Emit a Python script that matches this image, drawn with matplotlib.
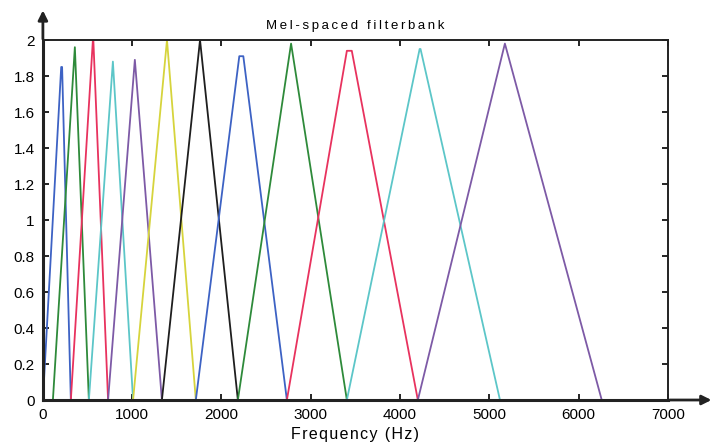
import numpy as np
import matplotlib.pyplot as plt

plt.rcParams['font.family'] = ['Liberation Sans', 'DejaVu Sans']

# triangular filters (Hz): start, top-left, top-right, end, height
starts = [0, 112, 313, 515, 730, 1010, 1333, 1713, 2184, 2733, 3405, 4200]
tops_l = [205, 358, 560, 784, 1030, 1390, 1760, 2200, 2780, 3405, 4220, 5175]
tops_r = [215, 358, 565, 784, 1030, 1390, 1760, 2245, 2780, 3460, 4230, 5175]
ends = [313, 515, 730, 1010, 1333, 1713, 2184, 2733, 3405, 4200, 5120, 6260]
heights = [1.85, 1.96, 2.0, 1.88, 1.89, 2.0, 2.0, 1.91, 1.98, 1.94, 1.95, 1.98]
colors = ['#3d62c4', '#2e8a3a', '#e8325e', '#5cc6c8', '#7d5aa6', '#d6d43c',
          '#1e1e1e', '#3d62c4', '#2e8a3a', '#e8325e', '#5cc6c8', '#7d5aa6']

xticks = [0, 1000, 2000, 3000, 4000, 5000, 6000, 7000]
yticks = [0, 0.2, 0.4, 0.6, 0.8, 1, 1.2, 1.4, 1.6, 1.8, 2]
ylabels = ['0', '0.2', '0.4', '0.6', '0.8', '1', '1.2', '1.4', '1.6', '1.8', '2']


def spaced(s, gap):
    # letter-spaced look of the scanned figure
    return gap.join(s)


fig = plt.figure(figsize=(7.15, 4.42), dpi=100)
ax = fig.add_axes([0.060, 0.095, 0.874, 0.8145])

for s, a, b, e, h, c in zip(starts, tops_l, tops_r, ends, heights, colors):
    ax.plot([s, a, b, e], [0, h, h, 0], color=c, lw=1.3)

ax.set_xlim(0, 7000)
ax.set_ylim(0, 2)
ax.set_xticks(xticks)
ax.set_yticks(yticks)
ax.set_yticklabels(ylabels)
ax.tick_params(direction='in', top=True, right=True, length=4, width=1.2,
               labelsize=11, pad=6)
for sp in ax.spines.values():
    sp.set_linewidth(1.4)
    sp.set_color('#222222')
ax.spines['left'].set_linewidth(2.2)
ax.spines['bottom'].set_linewidth(2.2)

ax.set_title(spaced('Mel-spaced filterbank', '\u2009'), fontsize=9.5, pad=8)
ax.set_xlabel(spaced('Frequency (Hz)', '\u200a'), fontsize=11.5, labelpad=3)

# hand-drawn axis arrows
ax.annotate('', xy=(0, 2.18), xytext=(0, 1.99), xycoords='data',
            arrowprops=dict(arrowstyle='-|>', color='#222222', lw=2,
                            mutation_scale=14), annotation_clip=False)
ax.annotate('', xy=(7520, 0), xytext=(6990, 0), xycoords='data',
            arrowprops=dict(arrowstyle='-|>', color='#222222', lw=2,
                            mutation_scale=14), annotation_clip=False)

fig.savefig('out.png', dpi=100)
